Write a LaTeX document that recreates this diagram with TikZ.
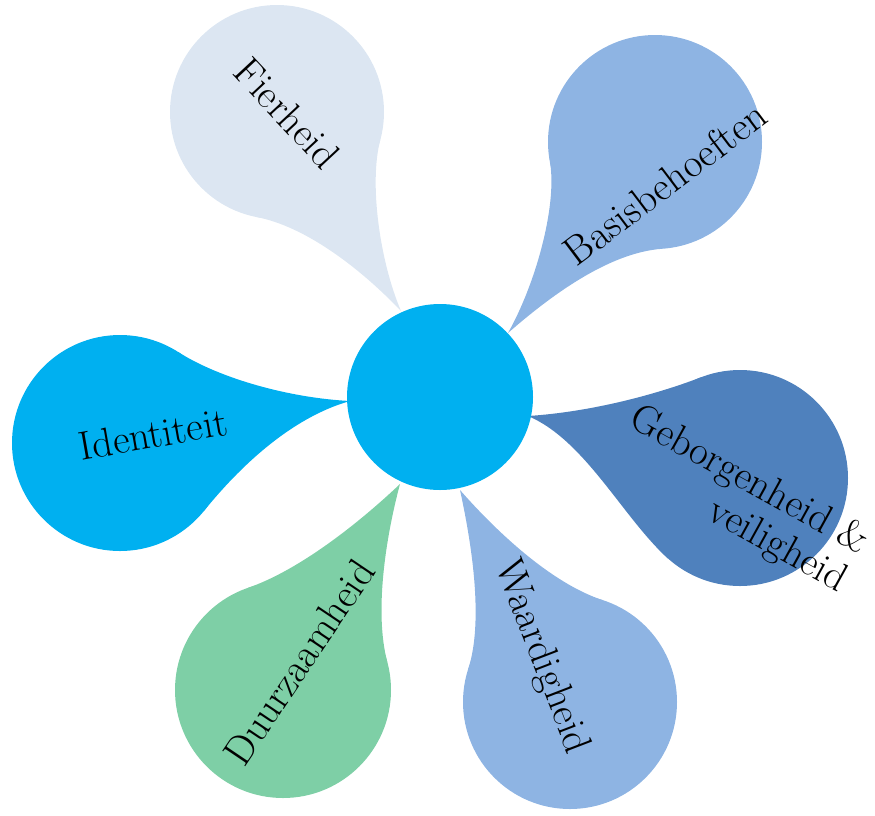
\documentclass[tikz,border=0pt]{standalone}
\usetikzlibrary{calc}
\definecolor{cFier}{HTML}{DCE6F2}
\definecolor{cBasis}{HTML}{8EB4E3}
\definecolor{cGeb}{HTML}{4F81BD}
\definecolor{cWaard}{HTML}{8EB4E3}
\definecolor{cDuur}{HTML}{7ECFA6}
\definecolor{cIdent}{HTML}{00B0F0}
\begin{document}
\begin{tikzpicture}[x=1pt,y=-1pt,
  lbl/.style={font=\fontsize{40.5}{43}\selectfont, inner sep=0pt, text=black}]
\useasboundingbox (0,0) rectangle (875,815);

% Fierheid
\coordinate (cF) at (277,112);
\fill[cFier] (cF) circle[radius=107];
\fill[cFier] (cF) -- ($(cF)+(15:107)$) .. controls ($(cF)+(15:107)+(105:45)$) and (380,262) .. (401,311)
  .. controls (360,268) and ($(cF)+(101:107)+(11:50)$) .. ($(cF)+(101:107)$) -- cycle;

% Basisbehoeften
\coordinate (cB) at (655,142);
\fill[cBasis] (cB) circle[radius=107];
\fill[cBasis] (cB) -- ($(cB)+(168:107)$) .. controls ($(cB)+(168:107)+(82:45)$) and (535,285) .. (508,333)
  .. controls (548,298) and ($(cB)+(86:107)+(176:55)$) .. ($(cB)+(86:107)$) -- cycle;

% Geborgenheid
\coordinate (cG) at (740,478);
\fill[cGeb] (cG) circle[radius=108];
\fill[cGeb] (cG) -- ($(cG)+(249:108)$) .. controls ($(cG)+(249:108)+(159:50)$) and (590,412) .. (528,416)
  .. controls (585,440) and ($(cG)+(132:108)+(222:60)$) .. ($(cG)+(132:108)$) -- cycle;

% Waardigheid
\coordinate (cW) at (570,702);
\fill[cWaard] (cW) circle[radius=107];
\fill[cWaard] (cW) -- ($(cW)+(198:107)$) .. controls ($(cW)+(198:107)+(288:50)$) and (472,545) .. (460,490)
  .. controls (495,530) and ($(cW)+(288:107)+(198:55)$) .. ($(cW)+(288:107)$) -- cycle;

% Duurzaamheid
\coordinate (cD) at (283,690);
\fill[cDuur] (cD) circle[radius=108];
\fill[cDuur] (cD) -- ($(cD)+(345:108)$) .. controls ($(cD)+(345:108)+(255:50)$) and (385,540) .. (400,484)
  .. controls (360,522) and ($(cD)+(251:108)+(341:55)$) .. ($(cD)+(251:108)$) -- cycle;

% Identiteit
\coordinate (cI) at (120,443);
\fill[cIdent] (cI) circle[radius=108];
\fill[cIdent] (cI) -- ($(cI)+(302.5:108)$) .. controls ($(cI)+(302.5:108)+(32.5:50)$) and (290,398) .. (350,401)
  .. controls (290,418) and ($(cI)+(39:108)+(-51:55)$) .. ($(cI)+(39:108)$) -- cycle;

% centre
\fill[cIdent] (440,397) circle[radius=93];

% labels
\node[lbl, rotate=-47] (tFier) at (287,113) {Fierheid};
\node[lbl, rotate=37] (tBasis) at (665,183) {Basisbehoeften};
\node[lbl, rotate=-29, align=right] (tGeb) at (738,500) {Geborgenheid \&\\veiligheid};
\node[lbl, rotate=-69] (tWaard) at (541,657) {Waardigheid};
\node[lbl, rotate=56] (tDuur) at (299,662) {Duurzaamheid};
\node[lbl, rotate=10] (tIdent) at (153,434) {Identiteit};
\end{tikzpicture}
\end{document}
